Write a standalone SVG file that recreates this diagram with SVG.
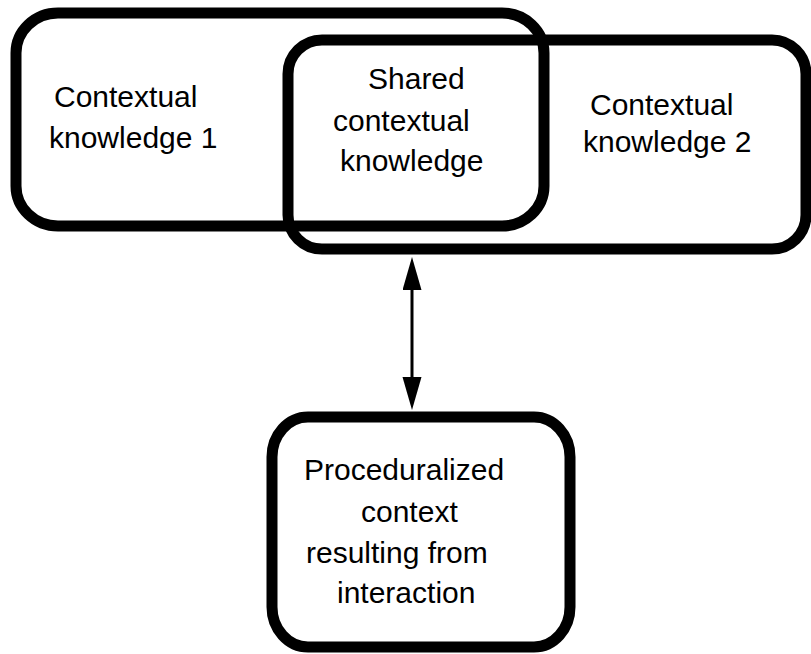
<svg xmlns="http://www.w3.org/2000/svg" width="811" height="654" viewBox="0 0 811 654">
  <style>
    .box { fill: none; stroke: #000; stroke-width: 11; }
    .boxw { fill: #fff; stroke: #000; stroke-width: 11; }
    .lbl { font-family: "Liberation Sans", Arial, sans-serif; font-size: 30px; fill: #000; }
    .conn { stroke: #000; stroke-width: 3; fill: none; }
  </style>
  <defs>
    <marker id="ah" markerUnits="userSpaceOnUse" markerWidth="34" markerHeight="20" refX="3" refY="9.5" orient="auto-start-reverse">
      <path d="M0,0 L33,9.5 L0,19 Z" fill="#000"/>
    </marker>
  </defs>
  <rect width="811" height="654" fill="#fff"/>

  <g id="ctx1">
    <rect class="box" x="16" y="13" width="528" height="213" rx="42" ry="40"/>
    <text class="lbl" x="54" y="107">Contextual</text>
    <text class="lbl" x="49" y="148">knowledge 1</text>
  </g>

  <g id="ctx2">
    <rect class="box" x="288" y="40" width="518" height="209" rx="34" ry="34"/>
    <text class="lbl" x="590" y="115">Contextual</text>
    <text class="lbl" x="583" y="152">knowledge 2</text>
  </g>

  <g id="shared">
    <text class="lbl" x="368" y="89">Shared</text>
    <text class="lbl" x="333" y="131">contextual</text>
    <text class="lbl" x="340" y="171">knowledge</text>
  </g>

  <g id="proc">
    <rect class="boxw" x="272" y="417" width="298" height="230" rx="36" ry="40"/>
    <text class="lbl" x="304" y="480">Proceduralized</text>
    <text class="lbl" x="361" y="522">context</text>
    <text class="lbl" x="306" y="563">resulting from</text>
    <text class="lbl" x="337" y="603">interaction</text>
  </g>

  <g id="connectors">
    <line class="conn" x1="412" y1="287" x2="412" y2="380" marker-start="url(#ah)" marker-end="url(#ah)"/>
  </g>
</svg>
